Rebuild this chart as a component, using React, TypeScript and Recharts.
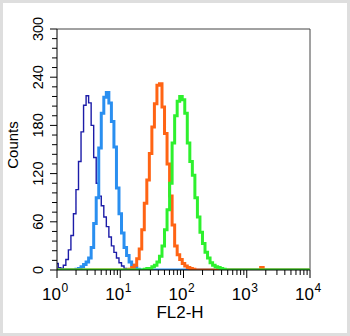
import React from 'react';
import { LineChart, Line, XAxis, YAxis, ReferenceLine } from 'recharts';

// FL2-H histogram bin centres (log spaced, 25 bins per decade)
const fl2hBins = [
  1, 1.096, 1.202, 1.318, 1.445, 1.585, 1.738, 1.905, 2.089, 2.291, 2.512, 2.754, 3.02, 3.311, 3.631, 3.981, 4.365, 4.786, 5.248, 5.754, 6.31, 6.918, 7.586, 8.318, 9.12,
  10, 10.96, 12.02, 13.18, 14.45, 15.85, 17.38, 19.05, 20.89, 22.91, 25.12, 27.54, 30.2, 33.11, 36.31, 39.81, 43.65, 47.86, 52.48, 57.54, 63.1, 69.18, 75.86, 83.18, 91.2,
  100, 109.6, 120.2, 131.8, 144.5, 158.5, 173.8, 190.5, 208.9, 229.1, 251.2, 275.4, 302, 331.1, 363.1, 398.1, 436.5, 478.6, 524.8, 575.4, 631, 691.8, 758.6, 831.8, 912,
  1000, 1096, 1202, 1318, 1445, 1585, 1738, 1905, 2089, 2291, 2512, 2754, 3020, 3311, 3631, 3981, 4365, 4786, 5248, 5754, 6310, 6918, 7586, 8318, 9120,
  10000,
];

// counts per series, starting at the given bin index (zero elsewhere)
const navyFirstBin = 0;
const navyCounts = [8, 3, 2, 6, 13, 25, 43, 70, 100, 135, 172, 205, 217, 208, 180, 140, 108, 92, 80, 66, 54, 41, 30, 22, 15, 9, 5, 2, 1];

const blueFirstBin = 8;
const blueCounts = [1, 2, 4, 7, 10, 15, 28, 58, 90, 152, 195, 215, 221, 208, 185, 153, 102, 70, 46, 28, 18, 10, 6, 3, 1];

const orangeFirstBin = 29;
const orangeCounts = [
  1, 3, 6, 14, 26, 50, 83, 112, 145, 178, 207, 230, 232, 203, 170, 132, 92, 56, 30, 19, 13, 8, 5, 3, 2, 1,
  0, 0, 0, 0, 0, 0, 0, 0, 0, 0, 0, 0, 0, 0, 0, 0, 0, 0, 0, 0, 0, 0, 0, 0, 0, 0, 3,
];

const greenFirstBin = 35;
const greenCounts = [1, 2, 2, 4, 6, 10, 17, 30, 50, 75, 108, 158, 192, 210, 216, 212, 195, 158, 135, 118, 90, 66, 47, 33, 22, 15, 9, 6, 4, 3, 2, 1];

const xMajorTicks = [1, 10, 100, 1000, 10000];
const xTickExponents = ['0', '1', '2', '3', '4'];
const xAllTicks = [
  1, 2, 3, 4, 5, 6, 7, 8, 9,
  10, 20, 30, 40, 50, 60, 70, 80, 90,
  100, 200, 300, 400, 500, 600, 700, 800, 900,
  1000, 2000, 3000, 4000, 5000, 6000, 7000, 8000, 9000,
  10000,
];
const yMajorTicks = [0, 60, 120, 180, 240, 300];
const yAllTicks = [0, 12, 24, 36, 48, 60, 72, 84, 96, 108, 120, 132, 144, 156, 168, 180, 192, 204, 216, 228, 240, 252, 264, 276, 288, 300];

const xLabel = 'FL2-H';
const yLabel = 'Counts';

const FONT = '"Liberation Sans", Arial, Helvetica, sans-serif';

const tableData = fl2hBins.map((x, i) => ({
  x,
  navy: navyCounts[i - navyFirstBin] ?? 0,
  blue: blueCounts[i - blueFirstBin] ?? 0,
  orange: orangeCounts[i - orangeFirstBin] ?? 0,
  green: greenCounts[i - greenFirstBin] ?? 0,
}));

const XTick = (props: any) => {
  const { x, y, payload } = props;
  const idx = xMajorTicks.indexOf(payload.value);
  const major = idx >= 0;
  return (
    <g>
      <line x1={x} x2={x} y1={y} y2={y + (major ? 8 : 5)} stroke="#000" strokeWidth={1} />
      {major && (
        <g fontFamily={FONT} fill="#000">
          <text x={x + 4} y={y + 30} textAnchor="end" fontSize={17}>10</text>
          <text x={x + 4.5} y={y + 22} textAnchor="start" fontSize={12}>{xTickExponents[idx]}</text>
        </g>
      )}
    </g>
  );
};

const YTick = (props: any) => {
  const { x, y, payload } = props;
  const major = yMajorTicks.includes(payload.value);
  return (
    <g>
      <line x1={x} x2={x - (major ? 7 : 5)} y1={y} y2={y} stroke="#000" strokeWidth={1} />
      {major && (
        <text
          transform={`translate(${x - 14},${y}) rotate(-90)`}
          textAnchor="middle"
          fontSize={14.5}
          fontFamily={FONT}
          fill="#000"
        >
          {payload.value}
        </text>
      )}
    </g>
  );
};

export default function App() {
  return (
    <div style={{ position: 'absolute', left: 0, top: 0, width: 350, height: 336, background: '#fff' }}>
      <LineChart
        width={350}
        height={336}
        data={tableData}
        margin={{ top: 29, right: 40, bottom: 0, left: 0 }}
      >
        <XAxis
          dataKey="x"
          type="number"
          scale="log"
          domain={[1, 10000]}
          ticks={xAllTicks}
          interval={0}
          tick={<XTick />}
          tickLine={false}
          tickSize={0}
          tickMargin={0}
          height={66}
          axisLine={{ stroke: '#000', strokeWidth: 1 }}
          allowDataOverflow
        />
        <YAxis
          type="number"
          domain={[0, 300]}
          ticks={yAllTicks}
          interval={0}
          tick={<YTick />}
          tickLine={false}
          tickSize={0}
          tickMargin={0}
          width={57}
          axisLine={{ stroke: '#000', strokeWidth: 1 }}
          allowDataOverflow
        />
        <ReferenceLine y={300} stroke="#444" strokeWidth={1} />
        <ReferenceLine x={10000} stroke="#444" strokeWidth={1} />
        <Line dataKey="navy" type="step" stroke="#1c1ca8" strokeWidth={1.4} dot={false} isAnimationActive={false} />
        <Line dataKey="blue" type="step" stroke="#2a8ff0" strokeWidth={3} dot={false} isAnimationActive={false} />
        <Line dataKey="orange" type="step" stroke="#ff6414" strokeWidth={3} dot={false} isAnimationActive={false} />
        <Line dataKey="green" type="step" stroke="#2ef02e" strokeWidth={3} dot={false} isAnimationActive={false} />
      </LineChart>
      <svg
        width={350}
        height={336}
        style={{ position: 'absolute', left: 0, top: 0, pointerEvents: 'none' }}
      >
        <text x={180} y={318} textAnchor="middle" fontSize={17} fontFamily={FONT} fill="#000">{xLabel}</text>
        <text
          transform="translate(18,145) rotate(-90)"
          textAnchor="middle"
          fontSize={15}
          fontFamily={FONT}
          fill="#000"
        >
          {yLabel}
        </text>
      </svg>
      <div
        style={{
          position: 'absolute', left: 0, top: 0, width: 350, height: 336,
          boxSizing: 'border-box', border: '3px solid #dedede', pointerEvents: 'none',
        }}
      />
    </div>
  );
}
